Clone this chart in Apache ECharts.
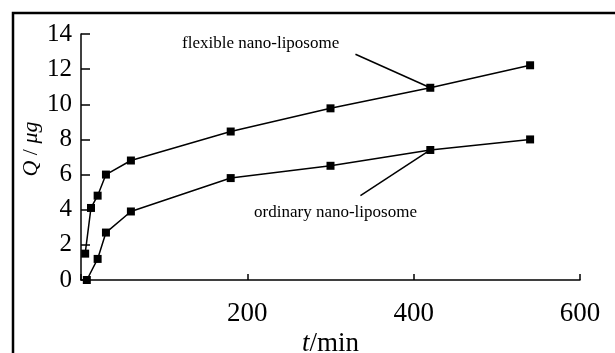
<!DOCTYPE html>
<html><head><meta charset="utf-8">
<script src="https://cdn.jsdelivr.net/npm/echarts@6/dist/echarts.min.js"></script>
<style>html,body{margin:0;padding:0;background:#fff}#c{width:615px;height:353px}</style>
</head><body><div id="c"></div>
<script>
var flexT = [5, 12, 20, 30, 60, 180, 300, 420, 540];
var flexQ = [1.5, 4.1, 4.8, 6.0, 6.8, 8.45, 9.77, 10.94, 12.22];
var ordT = [7, 20, 30, 60, 180, 300, 420, 540];
var ordQ = [0.0, 1.2, 2.7, 3.9, 5.8, 6.5, 7.4, 8.0];
var yTicks = [0, 2, 4, 6, 8, 10, 12, 14];
var xTicks = [0, 200, 400, 600];
var flexLabel = 'flexible nano-liposome';
var ordLabel = 'ordinary nano-liposome';

function zip(a, b) { return a.map(function (v, i) { return [v, b[i]]; }); }
var FONT = '"Liberation Serif", "DejaVu Serif", serif';
var chart = echarts.init(document.getElementById('c'));
var annoLine = {lineStyle: {color: '#000', width: 1.5, type: 'solid'}};
chart.setOption({
  animation: false,
  backgroundColor: '#fff',
  graphic: [{type: 'rect', shape: {x: 13, y: 13, width: 700, height: 500},
    style: {fill: 'none', stroke: '#000', lineWidth: 2.5}, z: 100}],
  grid: {left: 81, right: 35, top: 34, bottom: 73, containLabel: false, outerBoundsMode: 'none'},
  xAxis: {
    type: 'value', min: 0, max: 600, interval: 200,
    name: '{i|t}{n|/min}', nameLocation: 'middle', nameGap: 50, nameMoveOverlap: false,
    nameTextStyle: {rich: {i: {fontFamily: FONT, fontSize: 27, fontStyle: 'italic', color: '#000'},
                           n: {fontFamily: FONT, fontSize: 27, color: '#000'}}},
    axisLine: {lineStyle: {color: '#000', width: 1.5}},
    axisTick: {inside: true, length: 6, lineStyle: {color: '#000', width: 1.5}},
    axisLabel: {fontFamily: FONT, fontSize: 27, color: '#000', margin: 20,
      formatter: function (v) { return xTicks.indexOf(v) > 0 ? String(v) : ''; }},
    splitLine: {show: false}
  },
  yAxis: {
    type: 'value', min: 0, max: 14, interval: 2,
    name: '{i|Q} / {i|μg}', nameLocation: 'middle', nameGap: 39, nameRotate: 90, nameMoveOverlap: false,
    nameTextStyle: {fontFamily: FONT, fontSize: 22, color: '#000', padding: [0, 0, 0, 16],
      rich: {i: {fontFamily: FONT, fontSize: 22, fontStyle: 'italic', color: '#000'}}},
    axisLine: {show: true, lineStyle: {color: '#000', width: 1.5}},
    axisTick: {show: true, inside: true, length: 9, lineStyle: {color: '#000', width: 1.5}},
    axisLabel: {fontFamily: FONT, fontSize: 25, color: '#000', margin: 9,
      formatter: function (v) { return yTicks.indexOf(v) >= 0 ? String(v) : ''; }},
    splitLine: {show: false}
  },
  series: [
    {type: 'line', data: zip(flexT, flexQ), symbol: 'rect', symbolSize: 8,
      itemStyle: {color: '#000'}, lineStyle: {color: '#000', width: 1.5},
      markLine: Object.assign({symbol: 'none', silent: true, label: {show: false},
        data: [[{coord: [330, 12.85]}, {coord: [420, 10.94]}]]}, annoLine),
      markPoint: {symbol: 'circle', symbolSize: 0, silent: true,
        label: {show: true, position: 'inside', formatter: flexLabel, fontFamily: FONT, fontSize: 17, color: '#000'},
        data: [{coord: [216, 13.47]}]}
    },
    {type: 'line', data: zip(ordT, ordQ), symbol: 'rect', symbolSize: 8,
      itemStyle: {color: '#000'}, lineStyle: {color: '#000', width: 1.5},
      markLine: Object.assign({symbol: 'none', silent: true, label: {show: false},
        data: [[{coord: [336, 4.8]}, {coord: [420, 7.4]}]]}, annoLine),
      markPoint: {symbol: 'circle', symbolSize: 0, silent: true,
        label: {show: true, position: 'inside', formatter: ordLabel, fontFamily: FONT, fontSize: 17, color: '#000'},
        data: [{coord: [306, 3.84]}]}
    }
  ]
});
</script></body></html>
